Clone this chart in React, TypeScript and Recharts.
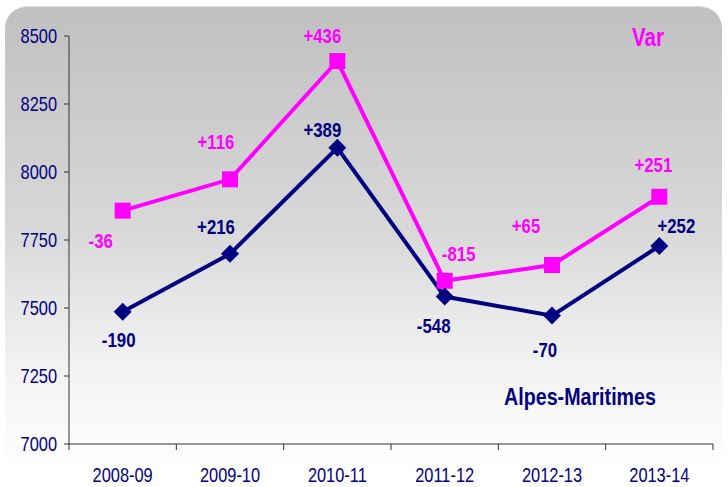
import React from 'react'
import { LineChart, Line, XAxis, YAxis, LabelList } from 'recharts'

const seasons = ['2008-09', '2009-10', '2010-11', '2011-12', '2012-13', '2013-14']
const varValues = [7858, 7973, 8408, 7600, 7658, 7909]
const varChanges = [-36, 116, 436, -815, 65, 251]
const alpesValues = [7486, 7699, 8089, 7542, 7472, 7728]
const alpesChanges = [-190, 216, 389, -548, -70, 252]
const yTicks = [7000, 7250, 7500, 7750, 8000, 8250, 8500]

// label offsets from the marker centre
const varLabelPos = [[-22, 30], [-14, -37], [-15, -25], [14, -27], [-26, -39], [-6, -32]]
const alpesLabelPos = [[-4, 28], [-14, -27], [-15, -18], [-11, 29], [-7, 34], [17, -20]]

const MAGENTA = '#ff00ff'
const NAVY = '#000080'
const FONT = '"Liberation Sans", Arial, sans-serif'
const NARROW = 0.82

const W = 728
const H = 487
const LEFT = 69
const RIGHT = 15
const band = (W - LEFT - RIGHT) / seasons.length

const data = seasons.map((s, i) => ({
  season: s,
  varV: varValues[i],
  alpes: alpesValues[i],
}))

const fmt = (v: number) => (v > 0 ? `+${v}` : `${v}`)

// Arial Narrow look-alike: squeeze Liberation Sans horizontally
const NarrowText = ({ x, y, anchor = 'middle', color, size, bold, children }: any) => (
  <g transform={`translate(${x},${y}) scale(${NARROW},1)`}>
    <text
      x={0}
      y={0}
      textAnchor={anchor}
      dominantBaseline="central"
      fill={color}
      fontFamily={FONT}
      fontWeight={bold ? 'bold' : 'normal'}
      fontSize={size}
    >
      {children}
    </text>
  </g>
)

const Square = (props: any) => {
  const { cx, cy } = props
  if (cx == null || cy == null) return null
  return <rect x={cx - 8} y={cy - 8} width={16} height={16} fill={MAGENTA} />
}

const Diamond = (props: any) => {
  const { cx, cy } = props
  if (cx == null || cy == null) return null
  const r = 9
  return <path d={`M${cx},${cy - r} L${cx + r},${cy} L${cx},${cy + r} L${cx - r},${cy} Z`} fill={NAVY} />
}

const makeLabel = (changes: number[], pos: number[][], color: string) => (props: any) => {
  const { x, y, index } = props
  const [dx, dy] = pos[index]
  return (
    <NarrowText x={x + dx} y={y + dy} color={color} size={20.5} bold>
      {fmt(changes[index])}
    </NarrowText>
  )
}

const XTick = (props: any) => {
  const { x, y, payload, index } = props
  return (
    <g>
      <line x1={x - band / 2} x2={x - band / 2} y1={y} y2={y + 6} stroke="#333" />
      {index === seasons.length - 1 && (
        <line x1={x + band / 2} x2={x + band / 2} y1={y} y2={y + 6} stroke="#333" />
      )}
      <NarrowText x={x} y={y + 31} color={NAVY} size={20}>
        {payload.value}
      </NarrowText>
    </g>
  )
}

const YTick = (props: any) => {
  const { x, y, payload } = props
  return (
    <NarrowText x={x} y={y} anchor="end" color={NAVY} size={20}>
      {payload.value}
    </NarrowText>
  )
}

export default function App() {
  return (
    <div style={{ position: 'absolute', left: 0, top: 0, width: W, height: H, background: '#fff', overflow: 'hidden' }}>
      <div
        style={{
          position: 'absolute',
          left: 5,
          top: 6,
          width: 717,
          height: 490,
          borderRadius: 22,
          borderTop: '1px solid #e2e2e2',
          background: 'linear-gradient(to bottom, #c0c0c0 0%, #d8d8d8 45%, #f4f4f4 75%, #ffffff 95%)',
        }}
      />
      <div style={{ position: 'absolute', left: 0, top: 0 }}>
        <LineChart width={W} height={H} data={data} margin={{ top: 36, right: RIGHT, bottom: 0, left: 0 }}>
          <XAxis
            dataKey="season"
            scale="band"
            height={43}
            tickSize={0}
            tickMargin={0}
            axisLine={{ stroke: '#333' }}
            tickLine={false}
            tick={<XTick />}
            interval={0}
          />
          <YAxis
            width={LEFT}
            domain={[7000, 8500]}
            ticks={yTicks}
            allowDataOverflow
            axisLine={{ stroke: '#333' }}
            tickLine={{ stroke: '#333' }}
            tickSize={5}
            tickMargin={7}
            tick={<YTick />}
          />
          <Line
            dataKey="varV"
            stroke={MAGENTA}
            strokeWidth={4}
            dot={<Square />}
            activeDot={false}
            isAnimationActive={false}
          >
            <LabelList dataKey="varV" content={makeLabel(varChanges, varLabelPos, MAGENTA)} />
          </Line>
          <Line
            dataKey="alpes"
            stroke={NAVY}
            strokeWidth={4}
            dot={<Diamond />}
            activeDot={false}
            isAnimationActive={false}
          >
            <LabelList dataKey="alpes" content={makeLabel(alpesChanges, alpesLabelPos, NAVY)} />
          </Line>
          <NarrowText x={648} y={37} color={MAGENTA} size={25} bold>
            Var
          </NarrowText>
          <NarrowText x={580} y={397} color={NAVY} size={24} bold>
            Alpes-Maritimes
          </NarrowText>
        </LineChart>
      </div>
    </div>
  )
}
